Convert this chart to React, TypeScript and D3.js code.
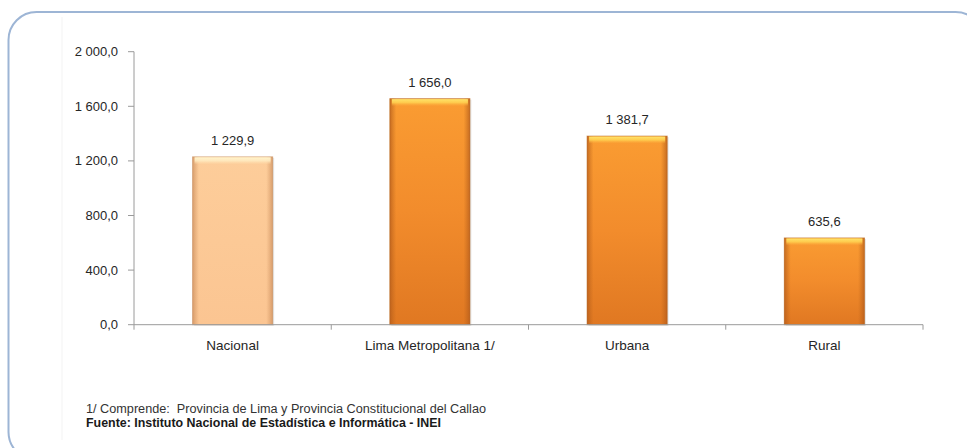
import React from "react";
import * as d3 from "d3";

const categories = ["Nacional", "Lima Metropolitana 1/", "Urbana", "Rural"];
const values = [1229.9, 1656.0, 1381.7, 635.6];
const valueLabels = ["1 229,9", "1 656,0", "1 381,7", "635,6"];
const yTicks = [0, 400, 800, 1200, 1600, 2000];
const yTickLabels = ["0,0", "400,0", "800,0", "1 200,0", "1 600,0", "2 000,0"];
const barKinds = ["light", "dark", "dark", "dark"];
const footnote = "1/ Comprende:  Provincia de Lima y Provincia Constitucional del Callao";
const source = "Fuente: Instituto Nacional de Estadística e Informática - INEI";

const W = 967;
const H = 448;
const X0 = 134;
const X1 = 923;
const Y0 = 324.7;
const Y1 = 51.7;
const FONT = "'Liberation Sans', Arial, sans-serif";

export default function App() {
  const x = d3
    .scaleBand<string>()
    .domain(categories)
    .range([X0, X1])
    .paddingInner(0.594)
    .paddingOuter(0.297);
  const y = d3.scaleLinear().domain([0, 2000]).range([Y0, Y1]);
  const bw = x.bandwidth();
  const step = x.step();
  const catTicks = d3.range(categories.length + 1).map((i) => X0 + i * step);

  return (
    <svg
      width={W}
      height={H}
      style={{ position: "absolute", left: 0, top: 0, background: "#fff" }}
      fontFamily={FONT}
    >
      <defs>
        <linearGradient id="gDark" x1="0" y1="0" x2="0" y2="1">
          <stop offset="0" stopColor="#FA9C32" />
          <stop offset="0.5" stopColor="#F28C2C" />
          <stop offset="1" stopColor="#E07822" />
        </linearGradient>
        <linearGradient id="gLight" x1="0" y1="0" x2="0" y2="1">
          <stop offset="0" stopColor="#FDCD9A" />
          <stop offset="1" stopColor="#FBC592" />
        </linearGradient>
        <linearGradient id="gSideDark" x1="0" y1="0" x2="1" y2="0">
          <stop offset="0" stopColor="#B0581A" stopOpacity="0.7" />
          <stop offset="0.08" stopColor="#B8621A" stopOpacity="0" />
          <stop offset="0.92" stopColor="#B8621A" stopOpacity="0" />
          <stop offset="1" stopColor="#B0581A" stopOpacity="0.7" />
        </linearGradient>
        <linearGradient id="gSideLight" x1="0" y1="0" x2="1" y2="0">
          <stop offset="0" stopColor="#C08050" stopOpacity="0.6" />
          <stop offset="0.08" stopColor="#C88A58" stopOpacity="0" />
          <stop offset="0.92" stopColor="#C88A58" stopOpacity="0" />
          <stop offset="1" stopColor="#C08050" stopOpacity="0.6" />
        </linearGradient>
        <linearGradient id="gTopDark" x1="0" y1="0" x2="0" y2="1">
          <stop offset="0" stopColor="#FFE46A" />
          <stop offset="0.5" stopColor="#FFD050" stopOpacity="0.9" />
          <stop offset="1" stopColor="#FFB040" stopOpacity="0" />
        </linearGradient>
        <linearGradient id="gTopLight" x1="0" y1="0" x2="0" y2="1">
          <stop offset="0" stopColor="#FFF4CC" />
          <stop offset="0.5" stopColor="#FFEAC0" stopOpacity="0.9" />
          <stop offset="1" stopColor="#FFE0B0" stopOpacity="0" />
        </linearGradient>
      </defs>

      <rect
        x={8.5}
        y={12}
        width={975}
        height={448}
        rx={28}
        ry={28}
        fill="#fff"
        stroke="#9DB5D5"
        strokeWidth={2}
      />
      <line x1={62} x2={62} y1={17} y2={440} stroke="#F3F3F3" strokeWidth={1} />

      {/* bars */}
      {categories.map((c, i) => {
        const bx = x(c) as number;
        const by = y(values[i]);
        const bh = Y0 - by;
        const light = barKinds[i] === "light";
        return (
          <g key={c}>
            <rect x={bx + 1.5} y={by + 1} width={bw} height={bh} fill="#000" opacity={0.1} />
            <rect
              x={bx}
              y={by}
              width={bw}
              height={bh}
              fill={light ? "url(#gLight)" : "url(#gDark)"}
              stroke={light ? "#C9976A" : "#B86A24"}
              strokeOpacity={0.6}
              strokeWidth={1}
            />
            <rect x={bx} y={by} width={bw} height={bh} fill={light ? "url(#gSideLight)" : "url(#gSideDark)"} />
            <rect x={bx + 2} y={by + 0.5} width={bw - 4} height={7} fill={light ? "url(#gTopLight)" : "url(#gTopDark)"} />
            <text
              x={bx + bw / 2}
              y={by - 12}
              textAnchor="middle"
              fontSize={13}
              fill="#262626"
            >
              {valueLabels[i]}
            </text>
          </g>
        );
      })}

      {/* y axis */}
      <line x1={X0} x2={X0} y1={Y1} y2={Y0} stroke="#9A9A9A" strokeWidth={1} />
      {yTicks.map((t, i) => (
        <g key={t}>
          <line x1={X0 - 6} x2={X0} y1={y(t)} y2={y(t)} stroke="#9A9A9A" strokeWidth={1} />
          <text
            x={X0 - 16}
            y={y(t)}
            dy="0.35em"
            textAnchor="end"
            fontSize={13}
            fill="#262626"
          >
            {yTickLabels[i]}
          </text>
        </g>
      ))}

      {/* x axis */}
      <line x1={X0} x2={X1} y1={Y0} y2={Y0} stroke="#9A9A9A" strokeWidth={1} />
      {catTicks.map((t, i) => (
        <line key={i} x1={t} x2={t} y1={Y0} y2={Y0 + 5} stroke="#9A9A9A" strokeWidth={1} />
      ))}
      {categories.map((c) => (
        <text
          key={c}
          x={(x(c) as number) + bw / 2}
          y={350}
          textAnchor="middle"
          fontSize={13.5}
          fill="#262626"
        >
          {c}
        </text>
      ))}

      {/* notes */}
      <text
        x={86}
        y={413}
        fontSize={12}
        fill="#333"
        textLength={400}
        lengthAdjust="spacingAndGlyphs"
        style={{ whiteSpace: "pre" }}
      >
        {footnote}
      </text>
      <text
        x={86}
        y={427}
        fontSize={12}
        fontWeight="bold"
        fill="#1a1a1a"
        textLength={355}
        lengthAdjust="spacingAndGlyphs"
      >
        {source}
      </text>
    </svg>
  );
}
